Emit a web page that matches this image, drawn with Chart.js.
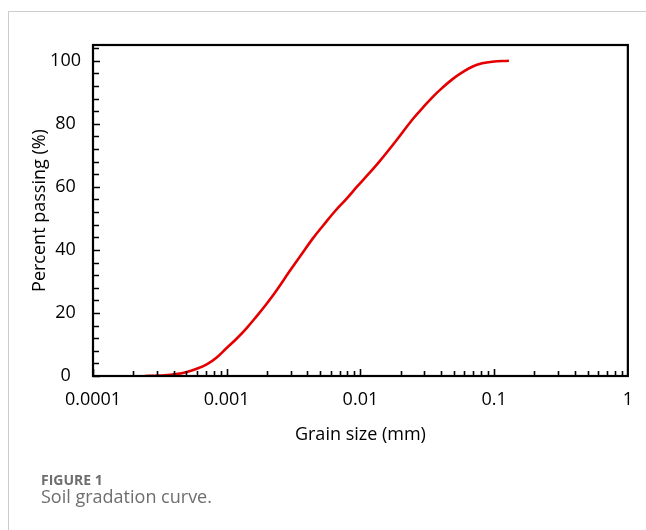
<!DOCTYPE html>
<html>
<head>
<meta charset="utf-8">
<script src="https://cdn.jsdelivr.net/npm/chart.js@4"></script>
<style>
  html, body { margin: 0; padding: 0; background: #fff; }
  body { width: 646px; height: 530px; position: relative; overflow: hidden; }
  #frame { position: absolute; left: 8px; top: 11px; width: 640px; height: 530px;
           border-top: 1.5px solid #cccccc; border-left: 1.5px solid #cccccc; }
  #chart { position: absolute; left: 0; top: 0; }
  .cap { position: absolute; left: 41px; font-family: "Open Sans", sans-serif; color: #6e6e6e; white-space: nowrap; }
  #fig { top: 470px; font-size: 14px; font-weight: 700; line-height: 20px; }
  #desc { top: 483px; font-size: 18px; line-height: 26px; }
</style>
</head>
<body>
<div id="frame"></div>
<canvas id="chart" width="646" height="530"></canvas>
<div class="cap" id="fig">FIGURE 1</div>
<div class="cap" id="desc">Soil gradation curve.</div>
<script>
/*global Chart*/

// grain size (mm) and percent passing
const grainSize = [0.000244, 0.00029, 0.000345, 0.000416, 0.000503, 0.000597, 0.000709,
  0.000842, 0.001, 0.00119, 0.00141, 0.00167, 0.00199, 0.0024, 0.00295, 0.00363,
  0.00438, 0.0053, 0.0064, 0.00786, 0.0095, 0.0115, 0.0139, 0.0183, 0.0244, 0.029,
  0.0345, 0.0409, 0.0486, 0.0577, 0.0685, 0.0814, 0.0966, 0.129];
const percentPassing = [0, 0.1, 0.2, 0.6, 1.3, 2.3, 3.7,
  5.9, 8.9, 11.9, 15.2, 18.9, 22.9, 27.6, 33.2, 38.6,
  43.5, 47.9, 52.1, 56.2, 60.2, 64.1, 68.1, 74.4, 81.3, 84.9,
  88.4, 91.4, 94.1, 96.3, 98.1, 99.2, 99.7, 100];

const xTickValues = [0.0001, 0.001, 0.01, 0.1, 1];
const xTickLabels = ["0.0001", "0.001", "0.01", "0.1", "1"];
const yTickValues = [0, 20, 40, 60, 80, 100];

const labelFont = { family: "'Open Sans', sans-serif", size: 18 };

// box round the plot plus inward tick marks (the library only draws outward ones)
const frameAndTicks = {
  id: "frameAndTicks",
  afterDatasetsDraw(chart) {
    const { ctx, chartArea: a } = chart;
    const xs = chart.scales.x;
    const ys = chart.scales.y;
    ctx.save();
    ctx.strokeStyle = "#000";
    ctx.lineWidth = 1.6;
    ctx.beginPath();
    for (let v = 0; v <= 104; v += 4) {
      const py = Math.round(ys.getPixelForValue(v)) + 0.5;
      const len = v % 20 === 0 ? 7 : 6;
      ctx.moveTo(a.left, py);
      ctx.lineTo(a.left + len, py);
    }
    for (let k = -4; k < 0; k++) {
      for (let m = 1; m <= 9; m++) {
        const px = Math.round(xs.getPixelForValue(m * Math.pow(10, k))) + 0.5;
        const len = m === 1 ? 7 : 5;
        ctx.moveTo(px, a.bottom);
        ctx.lineTo(px, a.bottom - len);
      }
    }
    ctx.stroke();
    ctx.lineWidth = 2.2;
    ctx.strokeRect(a.left, a.top, a.right - a.left, a.bottom - a.top);
    ctx.restore();
  },
};

const ctx = document.getElementById("chart").getContext("2d");

new Chart(ctx, {
  type: "line",
  plugins: [frameAndTicks],
  data: {
    datasets: [
      {
        data: grainSize.map((g, i) => ({ x: g, y: percentPassing[i] })),
        borderColor: "rgb(228,0,0)",
        borderWidth: 2.6,
        pointRadius: 0,
        tension: 0.4,
        fill: false,
      },
    ],
  },
  options: {
    responsive: false,
    animation: false,
    layout: {
      padding: { left: 0, top: 45, right: 17, bottom: 74 },
    },
    scales: {
      x: {
        type: "logarithmic",
        position: "bottom",
        min: 0.0001,
        max: 1,
        afterBuildTicks: (scale) => {
          scale.ticks = xTickValues.map((v) => ({ value: v, major: true }));
        },
        afterFit: (scale) => {
          scale.height = 80;
        },
        grid: { display: false, drawTicks: false },
        border: { display: false },
        ticks: {
          autoSkip: false,
          maxRotation: 0,
          padding: 13,
          color: "#000",
          font: labelFont,
          callback: (v, i) => xTickLabels[i],
        },
        title: {
          display: true,
          text: "Grain size (mm)",
          color: "#000",
          font: labelFont,
          padding: { top: 0, bottom: 10 },
        },
      },
      y: {
        type: "linear",
        min: 0,
        max: 105,
        afterBuildTicks: (scale) => {
          scale.ticks = yTickValues.map((v) => ({ value: v }));
        },
        afterFit: (scale) => {
          scale.width = 93;
        },
        grid: { display: false, drawTicks: false },
        border: { display: false },
        ticks: {
          crossAlign: "center",
          padding: 12,
          color: "#000",
          font: labelFont,
        },
        title: {
          display: true,
          text: "Percent passing (%)",
          color: "#000",
          font: labelFont,
          padding: { top: 29, bottom: 0 },
        },
      },
    },
    plugins: {
      legend: { display: false },
      tooltip: { enabled: false },
    },
  },
});
</script>
</body>
</html>
